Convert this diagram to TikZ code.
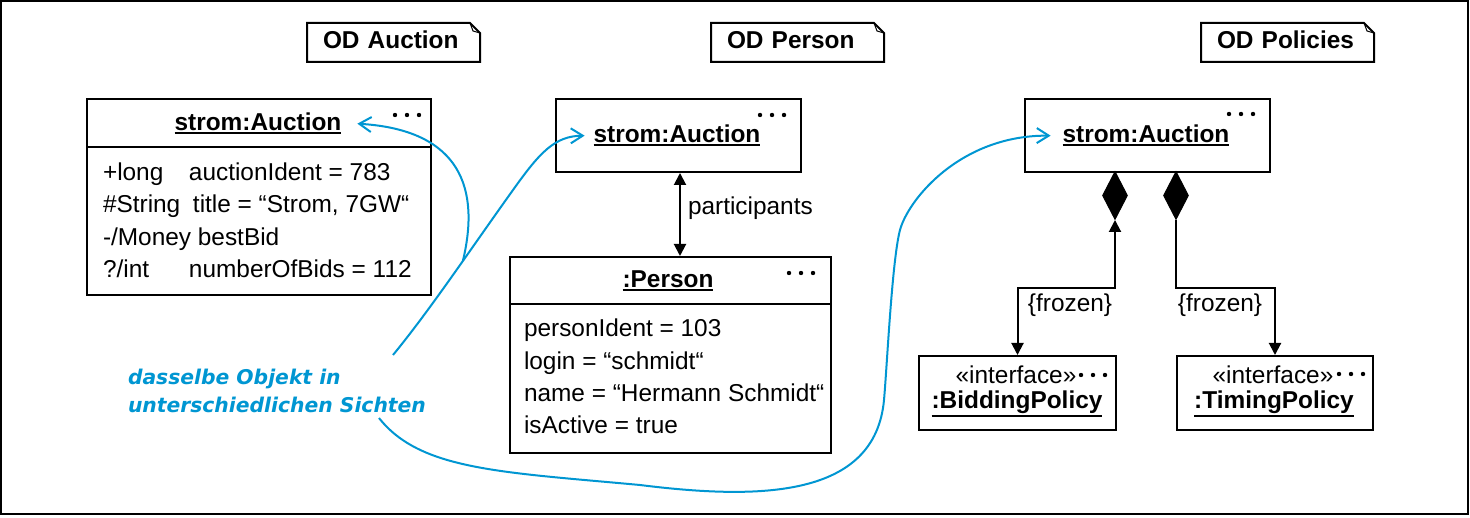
\documentclass[tikz,border=0pt]{standalone}
\usepackage{fontspec}
\setmainfont{Liberation Sans}
\newfontfamily\notefont{DejaVu Sans Bold Oblique}
\usetikzlibrary{arrows.meta,shapes.geometric}
\definecolor{notecol}{RGB}{0,150,210}
\newcommand{\dfont}{\fontsize{24.4}{32.3}\selectfont}
\newcommand{\objname}[1]{\setbox0\hbox{#1}\leavevmode\rlap{\rule[\dimexpr-\dp0-2.8pt\relax]{\wd0}{1.8pt}}\box0}
\newcommand{\objdots}[1]{\foreach \d in {-12,0,12} \fill[shift={(#1)}] (\d,0) circle (2.2pt);}
\newcommand{\odtag}[3]{%
  \node[tagbox] (#1) at (#2) {#3};
  \draw (#1.south west) -- (#1.north west) -- ([xshift=-10pt]#1.north east)
    -- ([yshift=-10pt]#1.north east) -- (#1.south east) -- cycle;
  \draw[line width=1pt] ([xshift=-10pt]#1.north east) -- ([xshift=-7pt,yshift=-8pt]#1.north east)
    -- ([yshift=-10pt]#1.north east);}

\begin{document}
\begin{tikzpicture}[x=1pt,y=-1pt,line width=2pt,
  obj/.style={draw, anchor=north west, inner sep=0},
  otitle/.style={font=\dfont\bfseries, inner sep=0, anchor=base},
  stereo/.style={font=\dfont, inner sep=0, anchor=base},
  attr/.style={font=\dfont, inner sep=0, anchor=base west},
  tagbox/.style={anchor=north west, inner xsep=15pt, inner ysep=0, text width=141pt,
    align=left, minimum height=37pt, text height=17.5pt, text depth=5pt, font=\dfont\bfseries},
  comp/.style={diamond, draw, fill, inner sep=0, minimum width=25pt, minimum height=48pt,
    anchor=north, line width=1pt},
  link/.style={<->, >={Triangle[length=12pt,width=12pt]}},
  notetext/.style={font=\notefont\fontsize{20.3}{28}\selectfont, text=notecol, inner sep=0,
    anchor=base west},
  viewline/.style={notecol, line width=2pt, -{Straight Barb[length=12pt,width=15pt]}}]
\useasboundingbox (0,0) rectangle (1470,518);
\draw (1,1) rectangle (1468,514);
% diagram tags
\odtag{odauc}{307,23}{OD Auction}
\odtag{odpers}{711,23}{OD Person}
\odtag{odpol}{1201,23}{OD Policies}
% OD Auction
\node[obj, minimum width=344, minimum height=196] (auc1) at (86,98) {};
\draw ([yshift=-49pt]auc1.north west) -- ([yshift=-49pt]auc1.north east);
\node[otitle] (auc1t) at (258,131) {\objname{strom:Auction}};
\objdots{407,115}
\node[attr] (auc1a) at (102,181) {\makebox[86pt][l]{+long}auctionIdent = 783};
\node[attr] (auc1b) at (102,213) {\makebox[90pt][l]{\#String}title = “Strom, 7GW“};
\node[attr] (auc1c) at (102,246) {-/Money bestBid};
\node[attr] (auc1d) at (102,278) {\makebox[86pt][l]{?/int}numberOfBids = 112};
% OD Person
\node[obj, minimum width=245, minimum height=73] (auc2) at (555,98) {};
\node[otitle] (auc2t) at (677,143) {\objname{strom:Auction}};
\objdots{772,115}
\node[obj, minimum width=321, minimum height=196] (pers) at (509,256) {};
\draw ([yshift=-48pt]pers.north west) -- ([yshift=-48pt]pers.north east);
\node[otitle] (perst) at (668,288) {\objname{:Person}};
\objdots{801,273}
\node[attr] (persa) at (523,337) {personIdent = 103};
\node[attr] (persb) at (523,369.5) {login = “schmidt“};
\node[attr] (persc) at (523,402) {name = “Hermann Schmidt“};
\node[attr] (persd) at (523,434) {isActive = true};
\coordinate (px) at (680,0);
\draw[link] (auc2.south -| px) -- (pers.north -| px);
\node[attr] (partl) at (687,215) {participants};
% OD Policies
\node[obj, minimum width=245, minimum height=73] (auc3) at (1024,98) {};
\node[otitle] (auc3t) at (1146,143) {\objname{strom:Auction}};
\objdots{1241,114}
\node[comp] (dia1) at (1115,171) {};
\node[comp] (dia2) at (1176,171) {};
\node[obj, minimum width=197, minimum height=74] (bid) at (918,355) {};
\node[stereo] (bids) at (1016,384) {«interface»};
\node[otitle] (bidt) at (1017,409) {\objname{:BiddingPolicy}};
\objdots{1093,375}
\node[obj, minimum width=196, minimum height=74] (tim) at (1176,355) {};
\node[stereo] (tims) at (1273,384) {«interface»};
\node[otitle] (timt) at (1274,409) {\objname{:TimingPolicy}};
\objdots{1351,374}
\draw[link] (dia1.south) -- ++(0,68) -| (bid.north);
\draw[link, ->] (dia2.south) -- ++(0,68) -| (tim.north);
\node[stereo] (fr1) at (1070,312) {\{frozen\}};
\node[stereo] (fr2) at (1220,312) {\{frozen\}};
% note with the three views
\node[notetext] (note1) at (127,385) {dasselbe Objekt in};
\node[notetext] (note2) at (127,413) {unterschiedlichen Sichten};
\coordinate (vs1) at (393,355);
\coordinate (vs2) at (379,418);
\draw[viewline] (vs1) .. controls (430,310) and (470,250) .. (513,190) coordinate[pos=0.6] (vj)
  .. controls (540,152) and (555,136) .. ([xshift=-8pt]auc2t.west);
\draw[viewline] (vj) .. controls (480,190) and (462,130) .. ([xshift=15pt]auc1t.east);
\draw[viewline] (vs2) .. controls (420,470) and (500,472) .. (640,485)
  .. controls (760,500) and (875,498) .. (884,400)
  .. controls (887,367) and (892,260) .. (900,230)
  .. controls (908,200) and (960,135) .. ([xshift=-11pt]auc3t.west);
\end{tikzpicture}
\end{document}
